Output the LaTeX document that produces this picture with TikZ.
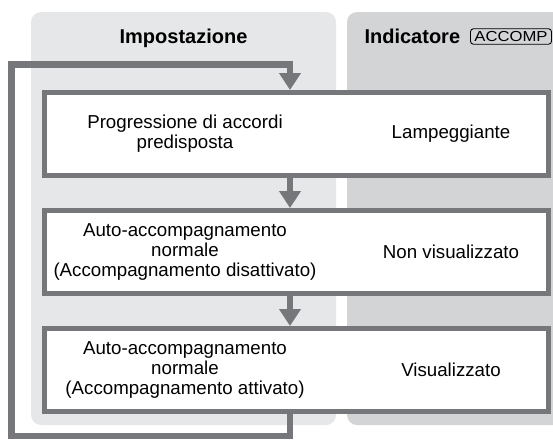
\documentclass[tikz,border=0pt]{standalone}
\usepackage{fontspec}
\setmainfont{Liberation Sans}
\usetikzlibrary{arrows.meta,positioning}
\usepackage{xcolor}
\definecolor{panelset}{HTML}{E6E7E8}
\definecolor{panelind}{HTML}{D3D4D6}
\definecolor{flowgray}{HTML}{76777A}

\begin{document}
\begin{tikzpicture}[
    x=1pt, y=-1pt,
    stepbox/.style={
        draw=flowgray,
        line width=5pt,
        fill=white,
        minimum width=504pt,   % one box runs over both columns
        minimum height=83pt,
        inner sep=0pt
    },
    cell/.style={align=center, font=\fontsize{18.7}{20}\selectfont},
    heading/.style={font=\fontsize{20}{24}\selectfont\bfseries},
    flow/.style={draw=flowgray, line width=6.5pt,
        -{Triangle[width=21pt,length=17pt]}}
]
\useasboundingbox (0,0) rectangle (553,439);

% the two column panels
\fill[panelset, rounded corners=10pt] (31,12) rectangle (336,425);
\fill[panelind, rounded corners=10pt] (347,12) rectangle (570,425);

\node[heading, anchor=base] (hset) at (183.5,43) {Impostazione};
\node[heading, anchor=base west] (hind) at (361,43) {Indicatore};
\node[draw, line width=0.9pt, rounded corners=3pt, minimum width=81pt,
      text height=10.5pt, text depth=0pt, inner ysep=2.5pt,
      font=\fontsize{14.5}{16}\selectfont] (accomp) at (511,36.5)
      {\scalebox{1.15}[1]{ACCOMP}};

% steps
\node[stepbox] (box1) at (296,134) {};
\node[stepbox] (box2) at (296,252) {};
\node[stepbox] (box3) at (296,370) {};

\node[cell] (set1) at (185,134) {Progressione di accordi\\predisposta};
\node[cell] (ind1) at (451,134) {Lampeggiante};
\node[cell] (set2) at (185,252) {Auto-accompagnamento\\normale\\(Accompagnamento disattivato)};
\node[cell] (ind2) at (451,252) {Non visualizzato};
\node[cell] (set3) at (185,370) {Auto-accompagnamento\\normale\\(Accompagnamento attivato)};
\node[cell] (ind3) at (451,370) {Visualizzato};

% arrows
\coordinate (col) at (290,64.5);
\coordinate (back) at (11.7,436);
\draw[flow] (box1.south -| col) -- (box2.north -| col);
\draw[flow] (box2.south -| col) -- (box3.north -| col);
\draw[flow] (box3.south -| col) |- (back) |- (col) -- (box1.north -| col);
\end{tikzpicture}
\end{document}
